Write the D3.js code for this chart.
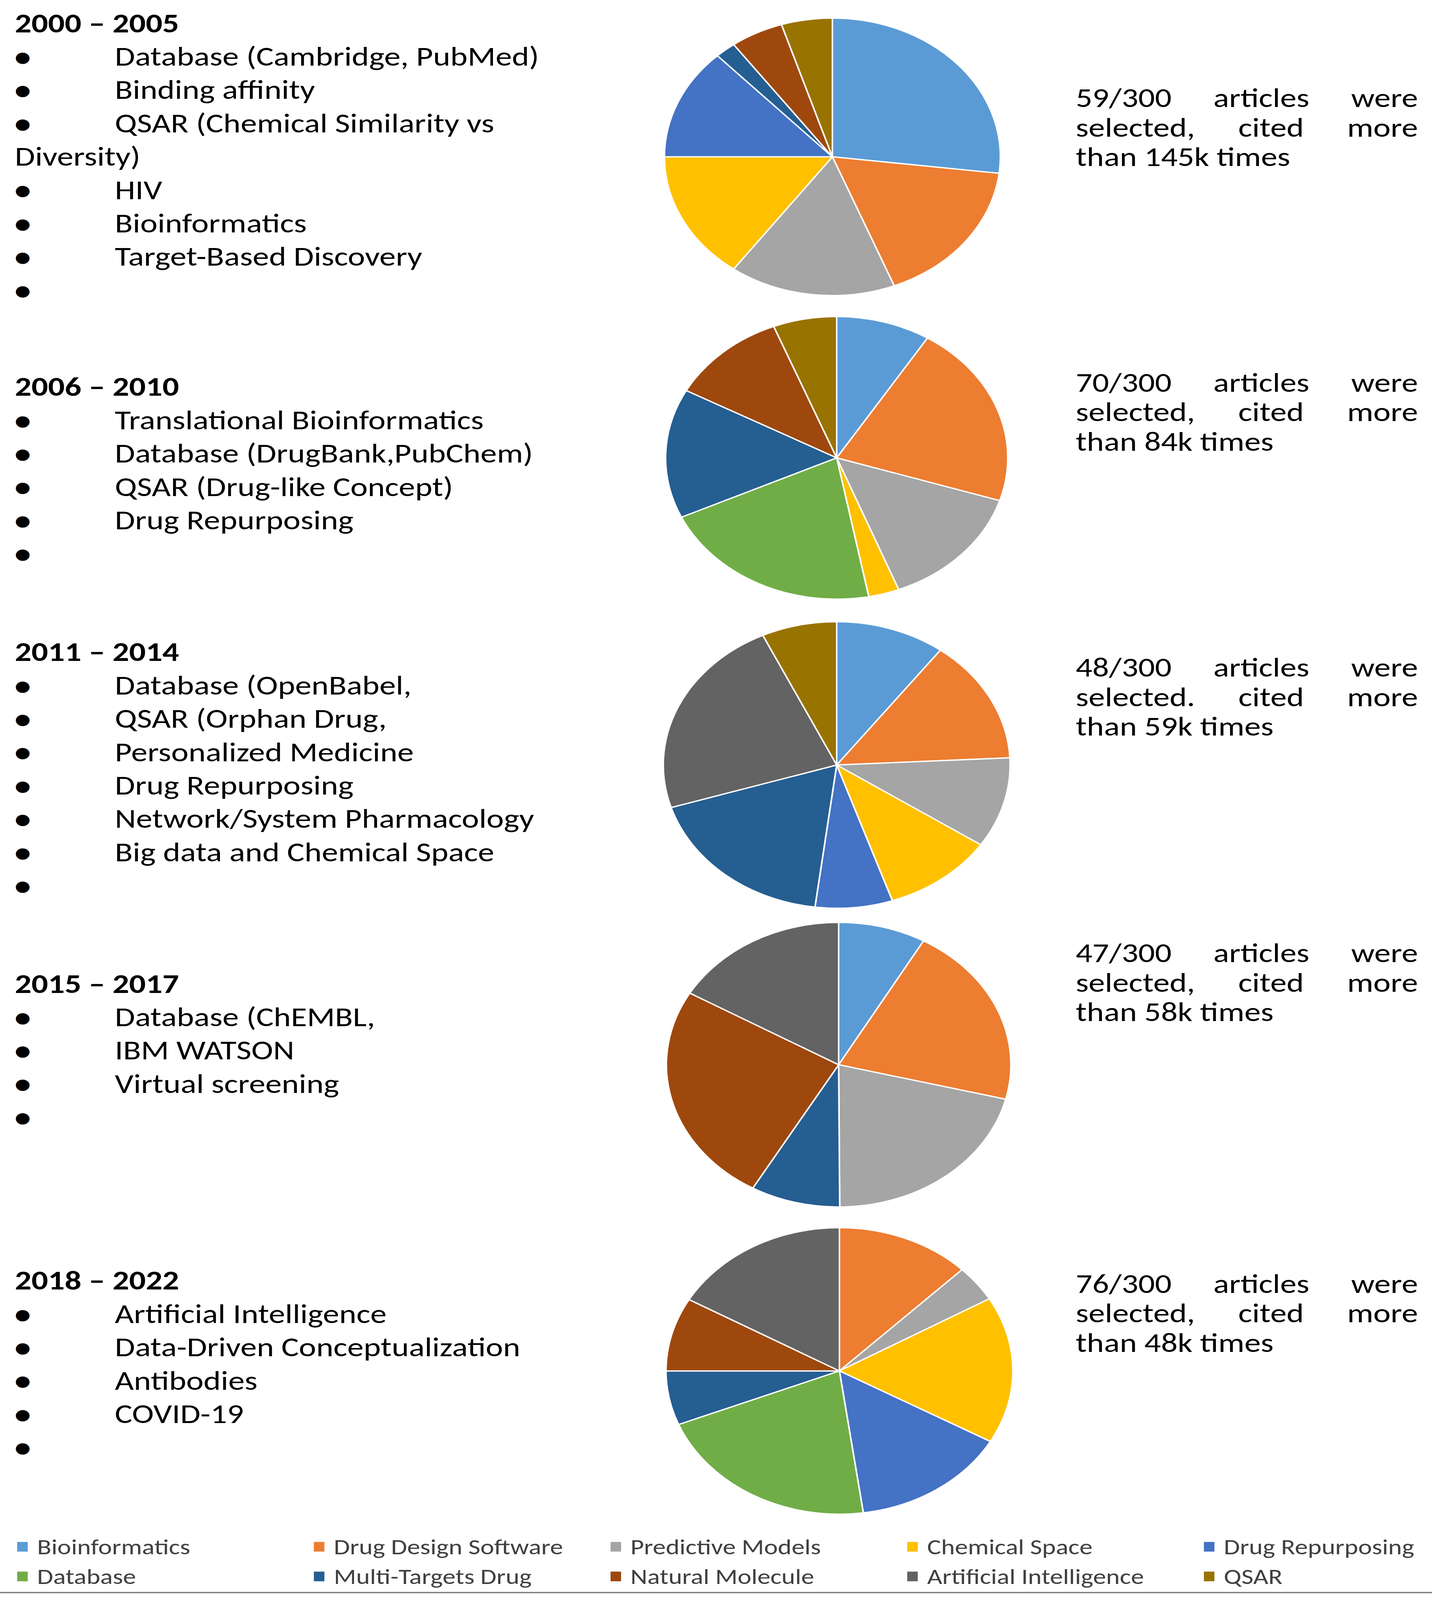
<!DOCTYPE html>
<html>
<head>
<meta charset="utf-8">
<script src="https://cdn.jsdelivr.net/npm/d3@7"></script>
<style>
html, body { margin: 0; padding: 0; background: #fff; overflow: hidden; }
svg { display: block; width: 100vw; height: 100vh; }
text { font-family: Carlito, Calibri, "Liberation Sans Narrow", sans-serif; fill: #000; }
</style>
</head>
<body>
<svg id="chart" viewBox="0 0 3666 4959" preserveAspectRatio="none"></svg>
<script>
// categories (legend order = slice order, clockwise from 12 o'clock)
const categories = ["Bioinformatics", "Drug Design Software", "Predictive Models", "Chemical Space", "Drug Repurposing",
                    "Database", "Multi-Targets Drug", "Natural Molecule", "Artificial Intelligence", "QSAR"];
const palette = ["#5B9BD5", "#ED7D31", "#A5A5A5", "#FFC000", "#4472C4",
                 "#70AD47", "#255E91", "#9E480E", "#636363", "#997300"];

const periods = ["2000 – 2005", "2006 – 2010", "2011 – 2014", "2015 – 2017", "2018 – 2022"];

// share of the selected articles per category (%)
const share2000 = [26.9, 17.1, 16.0, 15.0, 13.0, 0, 2.0, 5.1, 0, 4.9];
const share2006 = [8.9, 21.0, 14.2, 2.9, 0, 21.1, 14.8, 11.1, 0, 6.0];
const share2011 = [10.2, 14.0, 10.2, 10.4, 7.2, 0, 18.2, 0, 22.8, 7.0];
const share2015 = [8.2, 20.7, 21.0, 0, 0, 0, 8.4, 25.1, 16.6, 0];
const share2018 = [0, 12.5, 4.1, 16.6, 14.6, 21.1, 6.1, 8.3, 16.7, 0];

// bullet lists ("|" = line break in the source figure, "" = empty bullet)
const topics2000 = ["Database (Cambridge, PubMed)", "Binding affinity", "QSAR (Chemical Similarity vs|Diversity)",
                    "HIV", "Bioinformatics", "Target-Based Discovery", ""];
const topics2006 = ["Translational Bioinformatics", "Database (DrugBank,PubChem)", "QSAR (Drug-like Concept)",
                    "Drug Repurposing", ""];
const topics2011 = ["Database (OpenBabel,", "QSAR (Orphan Drug,", "Personalized Medicine", "Drug Repurposing",
                    "Network/System Pharmacology", "Big data and Chemical Space", ""];
const topics2015 = ["Database (ChEMBL,", "IBM WATSON", "Virtual screening", ""];
const topics2018 = ["Artificial Intelligence", "Data-Driven Conceptualization", "Antibodies", "COVID-19", ""];

const notes = [
  ["59/300 articles were", "selected, cited more", "than 145k times"],
  ["70/300 articles were", "selected, cited more", "than 84k times"],
  ["48/300 articles were", "selected. cited more", "than 59k times"],
  ["47/300 articles were", "selected, cited more", "than 58k times"],
  ["76/300 articles were", "selected, cited more", "than 48k times"]
];

const shares = [share2000, share2006, share2011, share2015, share2018];
const topics = [topics2000, topics2006, topics2011, topics2015, topics2018];

// layout of the five bands (px, in the 3666 x 4959 figure)
const titleY = [100, 1227, 2049, 3077, 3997];
const noteY = [332, 1214, 2097, 2982, 4007];
const pieC = [[2131, 486, 430], [2142, 1419, 438], [2142, 2371, 444], [2147, 3300, 441], [2149, 4249, 444]];

const svg = d3.select("#chart");
const fs = 84, lineH = 103.4;

const color = d3.scaleOrdinal(categories, palette);
const pie = d3.pie().sort(null).value(d => d.v);
const arc = d3.arc().innerRadius(0);

shares.forEach((s, i) => {
  const [cx, cy, r] = pieC[i];
  const data = s.map((v, k) => ({cat: categories[k], v: v})).filter(d => d.v > 0);
  svg.append("g")
    .attr("transform", `translate(${cx},${cy})`)
    .selectAll("path")
    .data(pie(data))
    .join("path")
    .attr("d", arc.outerRadius(r))
    .attr("fill", d => color(d.data.cat))
    .attr("stroke", "#fff")
    .attr("stroke-width", 4)
    .attr("stroke-linejoin", "round");
});

// left column: period + bullet list
topics.forEach((items, i) => {
  const g = svg.append("g");
  let y = titleY[i];
  g.append("text").attr("x", 38).attr("y", y)
    .attr("font-size", fs).attr("font-weight", 700).text(periods[i]);
  items.forEach(item => {
    const parts = item.split("|");
    y += lineH;
    g.append("text").attr("x", 58).attr("y", y - 27)
      .attr("text-anchor", "middle").attr("dominant-baseline", "central")
      .style("font-family", "'DejaVu Sans', sans-serif")
      .attr("font-size", 46).text("●");
    if (parts[0]) g.append("text").attr("x", 294).attr("y", y).attr("font-size", fs).text(parts[0]);
    parts.slice(1).forEach(p => {
      y += lineH;
      g.append("text").attr("x", 38).attr("y", y).attr("font-size", fs).text(p);
    });
  });
});

// right column: justified note, one text per word
const noteX0 = 2754, noteX1 = 3630, noteLH = 91.5;
notes.forEach((lines, i) => {
  lines.forEach((line, j) => {
    const y = noteY[i] + j * noteLH;
    const words = line.split(" ");
    const nodes = words.map(w => svg.append("text").attr("y", y).attr("font-size", fs).text(w));
    const widths = nodes.map(n => n.node().getComputedTextLength());
    const last = j === lines.length - 1;
    const gap = last ? fs * 0.226 : (noteX1 - noteX0 - d3.sum(widths)) / (words.length - 1);
    let x = noteX0;
    nodes.forEach((n, k) => { n.attr("x", x); x += widths[k] + gap; });
  });
});

// legend
const legX = d3.scaleLinear().domain([0, 4]).range([44, 3082]);
const legY = [4794, 4886];
const leg = svg.append("g").selectAll("g")
  .data(categories)
  .join("g")
  .attr("transform", (d, k) => `translate(${legX(k % 5)},${legY[Math.floor(k / 5)]})`);
leg.append("rect").attr("x", 0).attr("y", -15).attr("width", 27).attr("height", 30)
  .attr("fill", d => color(d));
leg.append("text").attr("x", 51).attr("y", 0).attr("dominant-baseline", "central")
  .attr("font-size", 67).style("fill", "#404040").text(d => d);

svg.append("line").attr("x1", 0).attr("x2", 3666).attr("y1", 4936).attr("y2", 4936)
  .attr("stroke", "#808080").attr("stroke-width", 4);
</script>
</body>
</html>
